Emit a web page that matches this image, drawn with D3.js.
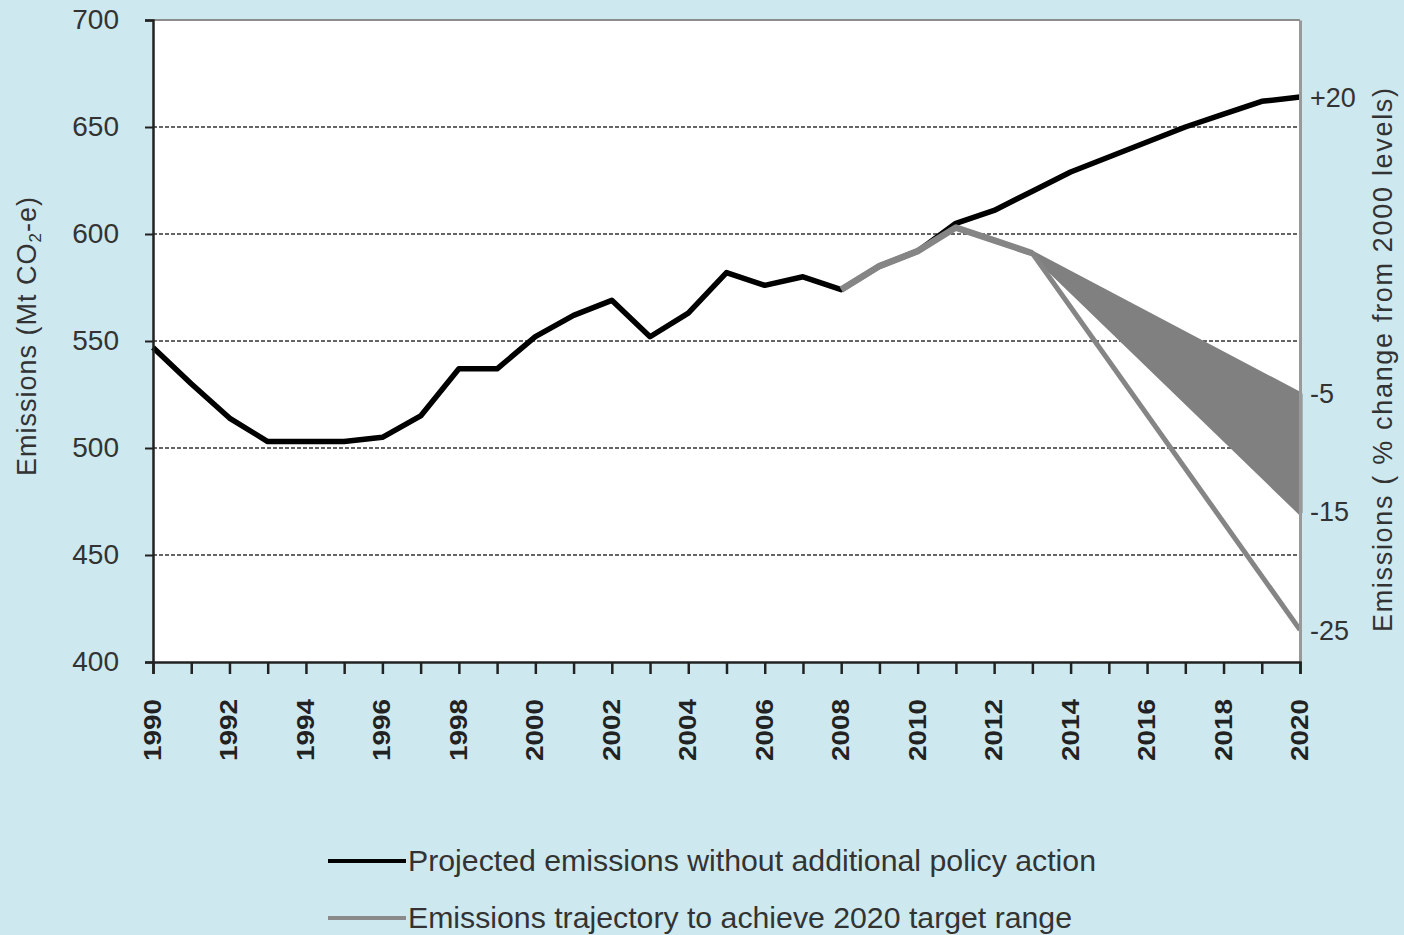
<!DOCTYPE html>
<html>
<head>
<meta charset="utf-8">
<script src="https://cdn.jsdelivr.net/npm/d3@7"></script>
<style>
  html, body { margin: 0; padding: 0; background: #cde9ef; }
  svg { display: block; }
</style>
</head>
<body>
<div id="chart"></div>
<script>
// emissions (Mt CO2-e) without additional policy action, one per year 1990..2020
const years = d3.range(1990, 2021);
const projectedVals = [547, 530, 514, 503, 503, 503, 505, 515, 537, 537, 552, 562, 569, 552, 563,
  582, 576, 580, 574, 585, 592, 605, 611, 620, 629, 636, 643, 650, 656, 662, 664];

// trajectory to target
const trajYears = [2008, 2009, 2010, 2011, 2012, 2013];
const trajVals = [574, 585, 592, 603, 597, 591];
// target end points (2013 -> 2020)
const fanYears = [2013, 2020];
const fanUpper = [591, 525];   // -5%
const fanLower = [591, 470];   // -15%
const deepLine = [591, 415];   // -25%

const leftTicks = [400, 450, 500, 550, 600, 650, 700];
const rightTicks = [20, -5, -15, -25];
const base2000 = 553;

const legendItems = [
  { label: "Projected emissions without additional policy action", color: "#000" },
  { label: "Emissions trajectory to achieve 2020 target range", color: "#8a8a8a" }
];

const W = 1404, H = 935;
const mLeft = 153, mRight = 1300, mTop = 20, mBottom = 662;

const svg = d3.select("#chart").append("svg")
  .attr("width", W).attr("height", H);

svg.append("rect").attr("width", W).attr("height", H).attr("fill", "#cde9ef");
svg.append("rect").attr("x", mLeft).attr("y", mTop)
  .attr("width", mRight - mLeft).attr("height", mBottom - mTop).attr("fill", "#fff");

const x = d3.scaleLinear().domain([1990, 2020]).range([mLeft, mRight]);
const y = d3.scaleLinear().domain([400, 700]).range([mBottom, mTop]);
const yPct = d3.scaleLinear()
  .domain([(400 / base2000 - 1) * 100, (700 / base2000 - 1) * 100])
  .range([mBottom, mTop]);

// gridlines
svg.append("g").selectAll("line")
  .data(leftTicks.filter(d => d > 400 && d < 700))
  .join("line")
    .attr("x1", mLeft).attr("x2", mRight)
    .attr("y1", d => y(d)).attr("y2", d => y(d))
    .attr("stroke", "#333").attr("stroke-width", 1.5)
    .attr("stroke-dasharray", "4,2");

// top border
svg.append("line").attr("x1", mLeft).attr("x2", mRight).attr("y1", mTop).attr("y2", mTop)
  .attr("stroke", "#8c8c8c").attr("stroke-width", 2);

const line = d3.line().x(d => x(d[0])).y(d => y(d[1]));

// black projection
svg.append("path")
  .datum(years.map((yr, i) => [yr, projectedVals[i]]))
  .attr("d", line)
  .attr("fill", "none").attr("stroke", "#000").attr("stroke-width", 5.5)
  .attr("stroke-linejoin", "round");

// fan
const area = d3.area()
  .x(d => x(d[0])).y0(d => y(d[1])).y1(d => y(d[2]));
svg.append("path")
  .datum(fanYears.map((yr, i) => [yr, fanUpper[i], fanLower[i]]))
  .attr("d", area)
  .attr("fill", "#808080").attr("stroke", "#808080").attr("stroke-width", 5)
  .attr("stroke-linejoin", "round");

svg.append("path")
  .datum(fanYears.map((yr, i) => [yr, deepLine[i]]))
  .attr("d", line)
  .attr("fill", "none").attr("stroke", "#858585").attr("stroke-width", 5);

svg.append("path")
  .datum(trajYears.map((yr, i) => [yr, trajVals[i]]))
  .attr("d", line)
  .attr("fill", "none").attr("stroke", "#858585").attr("stroke-width", 6.5)
  .attr("stroke-linejoin", "round");

// left axis
const gy = svg.append("g").attr("transform", `translate(${mLeft},0)`)
  .call(d3.axisLeft(y).tickValues(leftTicks).tickSize(8).tickPadding(26));
gy.select(".domain").attr("stroke", "#222").attr("stroke-width", 2.5);
gy.selectAll(".tick line").attr("stroke", "#222").attr("stroke-width", 2);
gy.selectAll("text")
  .attr("font-family", "Liberation Sans, Arial, sans-serif")
  .attr("font-size", 28).attr("fill", "#333");

// right axis
const gr = svg.append("g").attr("transform", `translate(${mRight},0)`)
  .call(d3.axisRight(yPct).tickValues(rightTicks).tickSize(0).tickPadding(10)
    .tickFormat(d => d > 0 ? "+" + d : d));
gr.select(".domain").attr("stroke", "#999").attr("stroke-width", 3);
gr.selectAll("text")
  .attr("font-family", "Liberation Sans, Arial, sans-serif")
  .attr("font-size", 27).attr("fill", "#333");

// bottom axis
const gx = svg.append("g").attr("transform", `translate(0,${mBottom})`)
  .call(d3.axisBottom(x).ticks(30).tickSize(12).tickFormat(""));
gx.select(".domain").attr("stroke", "#222").attr("stroke-width", 2.5);
gx.selectAll(".tick line").attr("stroke", "#222").attr("stroke-width", 2.5);

svg.append("g").selectAll("text")
  .data(years.filter(d => d % 2 === 0))
  .join("text")
    .attr("transform", d => `translate(${x(d) + 8},730) rotate(-90)`)
    .attr("text-anchor", "middle")
    .attr("font-family", "Liberation Sans, Arial, sans-serif")
    .attr("font-weight", "bold")
    .attr("font-size", 23).attr("fill", "#222")
    .attr("textLength", 62).attr("lengthAdjust", "spacingAndGlyphs")
    .text(d => d);

// axis titles
const yt = svg.append("text")
  .attr("transform", "translate(36,336) rotate(-90)")
  .attr("text-anchor", "middle")
  .attr("font-family", "Liberation Sans, Arial, sans-serif")
  .attr("font-size", 27).attr("fill", "#333")
  .attr("letter-spacing", 1);
yt.append("tspan").text("Emissions (Mt CO");
yt.append("tspan").attr("font-size", 17).attr("dy", 5).text("2");
yt.append("tspan").attr("dy", -5).text("-e)");

svg.append("text")
  .attr("transform", "translate(1392,360) rotate(-90)")
  .attr("text-anchor", "middle")
  .attr("font-family", "Liberation Sans, Arial, sans-serif")
  .attr("font-size", 27).attr("fill", "#333")
  .attr("textLength", 544).attr("lengthAdjust", "spacing")
  .text("Emissions ( % change from 2000 levels)");

// legend
const lg = svg.append("g").selectAll("g")
  .data(legendItems)
  .join("g")
    .attr("transform", (d, i) => `translate(328,${861 + i * 57})`);
lg.append("line").attr("x1", 0).attr("x2", 78)
  .attr("stroke", d => d.color).attr("stroke-width", 4);
lg.append("text")
  .attr("x", 80).attr("dy", "0.35em")
  .attr("font-family", "Liberation Sans Narrow, Liberation Sans, Arial, sans-serif")
  .attr("font-size", 29).attr("fill", "#333")
  .attr("textLength", (d, i) => i === 0 ? 688 : 664)
  .attr("lengthAdjust", "spacingAndGlyphs")
  .text(d => d.label);
</script>
</body>
</html>
